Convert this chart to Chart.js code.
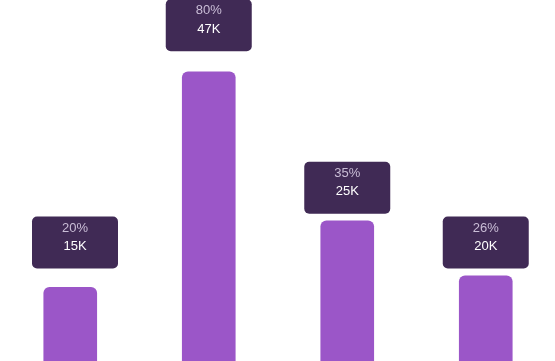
<!DOCTYPE html>
<html>
<head>
<meta charset="utf-8">
<script src="https://cdn.jsdelivr.net/npm/chart.js@4"></script>
<style>
  html, body { margin: 0; padding: 0; background: #ffffff; }
  #wrap { position: relative; width: 555px; height: 361px; }
</style>
</head>
<body>
<div id="wrap"><canvas id="c"></canvas></div>
<script>
// Data
const categories = ["A", "B", "C", "D"];
const barValues = [20.4, 80.1, 38.8, 23.6];          // bar heights (scale 0-100)
const percentLabels = ["20%", "80%", "35%", "26%"];
const valueLabels = ["15K", "47K", "25K", "20K"];
const labelLevels = [25.6, 85.8, 40.8, 25.6];        // level of each label box's bottom edge

const BAR_COLOR = "#9b56c8";
const BOX_COLOR = "#402a55";

const labelBoxes = {
  id: "labelBoxes",
  afterDatasetsDraw(chart) {
    const ctx = chart.ctx;
    const meta = chart.getDatasetMeta(0);
    const yScale = chart.scales.y;
    const w = 86, h = 52, r = 5, minLeft = 32;
    ctx.save();
    meta.data.forEach((bar, i) => {
      const bottom = yScale.getPixelForValue(labelLevels[i]);
      const top = bottom - h;
      const left = Math.max(minLeft, bar.x - w / 2);
      const cx = left + w / 2;
      ctx.beginPath();
      ctx.roundRect(left, top, w, h, r);
      ctx.fillStyle = BOX_COLOR;
      ctx.fill();
      ctx.textAlign = "center";
      ctx.textBaseline = "middle";
      ctx.font = "13px 'Liberation Sans', Arial, Helvetica, sans-serif";
      ctx.fillStyle = "#c9bdd6";
      ctx.fillText(percentLabels[i], cx, top + 11.5);
      ctx.fillStyle = "#ffffff";
      ctx.fillText(valueLabels[i], cx, top + 30);
    });
    ctx.restore();
  }
};

new Chart(document.getElementById("c"), {
  type: "bar",
  data: {
    labels: categories,
    datasets: [{
      data: barValues,
      backgroundColor: BAR_COLOR,
      barThickness: 53,
      borderRadius: { topLeft: 6, topRight: 6, bottomLeft: 0, bottomRight: 0 },
      borderSkipped: "bottom"
    }]
  },
  options: {
    responsive: true,
    maintainAspectRatio: false,
    animation: false,
    layout: { padding: { left: 1, right: 0, top: 0, bottom: 0 } },
    plugins: { legend: { display: false }, tooltip: { enabled: false } },
    scales: {
      x: { display: false },
      y: { display: false, min: 0, max: 100 }
    }
  },
  plugins: [labelBoxes]
});
</script>
</body>
</html>
